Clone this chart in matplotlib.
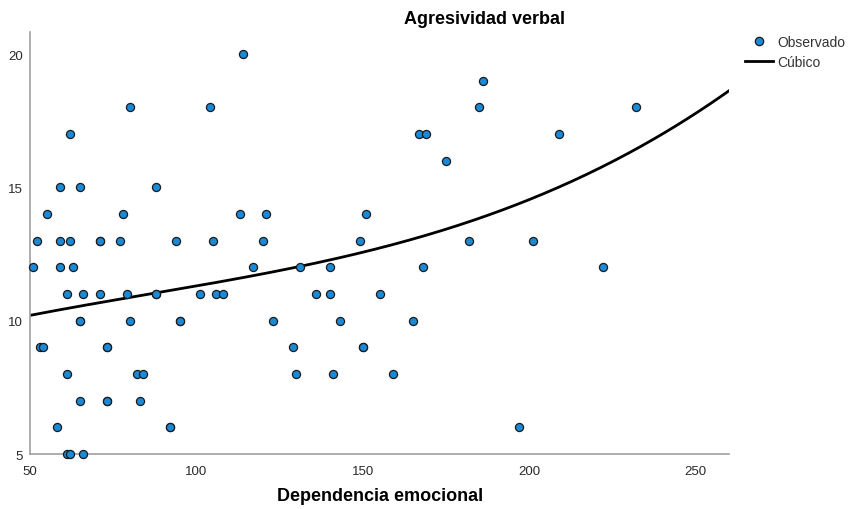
import numpy as np
import matplotlib
matplotlib.use("Agg")
import matplotlib.pyplot as plt
from matplotlib.lines import Line2D

plt.rcParams["font.family"] = ["Liberation Sans", "DejaVu Sans"]

# observed points: dependencia emocional (x) vs agresividad verbal (y)
dep_emocional = [
    114,
    186,
    80, 104, 185, 232,
    62, 167, 169, 209,
    175,
    59, 65, 88,
    55, 78, 113, 121, 151,
    52, 59, 62, 71, 71, 77, 94, 105, 120, 149, 182, 201,
    51, 59, 63, 117, 131, 140, 168, 222,
    61, 66, 71, 79, 88, 88, 101, 106, 108, 136, 140, 155,
    65, 65, 80, 95, 95, 123, 143, 165,
    53, 54, 73, 73, 129, 150, 150,
    61, 82, 84, 130, 141, 159,
    65, 73, 73, 83,
    58, 92, 92, 197,
    61, 62, 66,
]
agresividad = [
    20,
    19,
    18, 18, 18, 18,
    17, 17, 17, 17,
    16,
    15, 15, 15,
    14, 14, 14, 14, 14,
    13, 13, 13, 13, 13, 13, 13, 13, 13, 13, 13, 13,
    12, 12, 12, 12, 12, 12, 12, 12,
    11, 11, 11, 11, 11, 11, 11, 11, 11, 11, 11, 11,
    10, 10, 10, 10, 10, 10, 10, 10,
    9, 9, 9, 9, 9, 9, 9,
    8, 8, 8, 8, 8, 8,
    7, 7, 7, 7,
    6, 6, 6, 6,
    5, 5, 5,
]

# fitted cubic curve
curve_x = [50.3, 102.6, 155.3, 215.4, 259.9]
curve_y = [10.21, 11.35, 12.75, 15.37, 18.62]

x = np.array(dep_emocional, dtype=float)
y = np.array(agresividad, dtype=float)

coef = np.polyfit(curve_x, curve_y, 3)
xs = np.linspace(50, 260, 300)
ys = np.polyval(coef, xs)

fig = plt.figure(figsize=(8.48, 5.10), dpi=100)
ax = fig.add_axes([30 / 848, 1 - 455 / 510, 699 / 848, 422 / 510])

ax.scatter(x, y, s=34, color="#1a8ad6", edgecolor="#1a1a1a", linewidth=0.9, zorder=3, clip_on=False)
ax.plot(xs, ys, color="black", lw=2.0, zorder=2)

ax.set_xlim(50, 260)
ax.set_ylim(5, 20.83)
ax.set_xticks([50, 100, 150, 200, 250])
ax.set_yticks([5, 10, 15, 20])
ax.tick_params(length=0, labelsize=9.5, colors="#2a2a2a")
ax.tick_params(axis="x", pad=8)
ax.tick_params(axis="y", pad=5)
for s in ["top", "right"]:
    ax.spines[s].set_visible(False)
for s in ["left", "bottom"]:
    ax.spines[s].set_color("#a0a0a0")
    ax.spines[s].set_linewidth(1.2)

fig.text(485 / 848, 1 - 19 / 510, "Agresividad verbal", ha="center", va="center",
         fontsize=13, fontweight="bold")
fig.text(380 / 848, 1 - 497 / 510, "Dependencia emocional", ha="center", va="center",
         fontsize=13, fontweight="bold")

handles = [
    Line2D([], [], ls="none", marker="o", markersize=6, markerfacecolor="#1a8ad6",
           markeredgecolor="#1a1a1a", markeredgewidth=0.9),
    Line2D([], [], color="black", lw=2.0),
]
fig.legend(handles, ["Observado", "Cúbico"], loc="upper left",
           bbox_to_anchor=(745 / 848, 1 - 36 / 510), frameon=False,
           fontsize=10, handlelength=2.0, handletextpad=0.3, labelspacing=0.45,
           borderaxespad=0, borderpad=0, labelcolor="#333333")

fig.savefig("out.png", dpi=100)
